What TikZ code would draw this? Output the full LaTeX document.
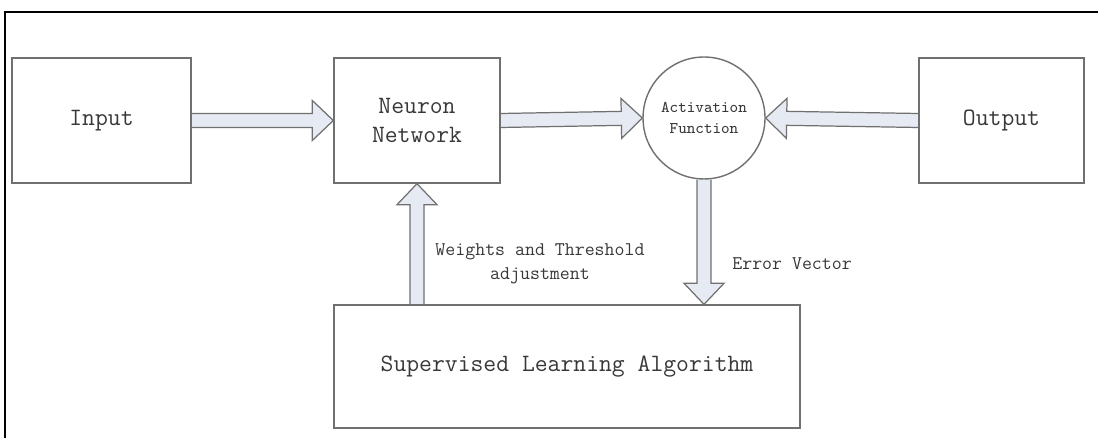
\documentclass[tikz,border=0pt]{standalone}
\usetikzlibrary{calc,backgrounds}

\definecolor{boxgray}{HTML}{707070}
\definecolor{txtgray}{HTML}{383838}
\definecolor{arrowfill}{HTML}{E6EAF3}

\tikzset{
  block/.style={draw=boxgray,line width=0.8pt,fill=white,minimum height=2.5cm,
    inner sep=0pt,text=txtgray,font=\ttfamily\fontsize{14.2}{17}\selectfont},
  fatarrow/.style={draw=boxgray,line width=0.7pt,fill=arrowfill,line join=miter},
  lbl/.style={text=txtgray,font=\ttfamily\fontsize{11}{13.5}\selectfont,inner sep=0pt}
}

\newcommand{\fatarrow}[2]{%
  \path ($(#2)!0.42cm!(#1)$) coordinate (fa-h);
  \filldraw[fatarrow] ($(#1)!0.14cm!90:(#2)$) -- ($(fa-h)!0.14cm!90:(#2)$)
    -- ($(fa-h)!0.4cm!90:(#2)$) -- (#2) -- ($(fa-h)!0.4cm!-90:(#2)$)
    -- ($(fa-h)!0.14cm!-90:(#2)$) -- ($(#1)!0.14cm!-90:(#2)$);
}

\begin{document}
\begin{tikzpicture}[x=0.02cm,y=-0.02cm]
  \useasboundingbox (0,0) rectangle (1098,438);
  \draw[line width=1.4pt,black] (5,438) -- (5,12) -- (1098,12);
  \node[block,minimum width=3.58cm] (input) at (101.5,120.5) {Input};
  \node[block,minimum width=3.32cm,align=center] (nn) at (417,120.5) {Neuron\\Network};
  \node[block,circle,minimum size=2.44cm,minimum height=0pt,
    font=\ttfamily\fontsize{9.3}{12}\selectfont,align=center] (act) at (704,118) {Activation\\Function};
  \node[block,minimum width=3.3cm] (output) at (1001.5,120.5) {Output};
  \node[block,minimum width=9.32cm,minimum height=2.46cm] (sla) at (567,366.5) {Supervised Learning Algorithm};
  \begin{scope}[on background layer]
    \fatarrow{input.east}{nn.west}
    \fatarrow{nn.east}{act.west}
    \fatarrow{output.west}{act.east}
    \fatarrow{nn.south |- sla.north}{nn.south}
    \fatarrow{act.south}{act.south |- sla.north}
  \end{scope}
  \node[lbl,align=center] (wlbl) at (540,264) {Weights and Threshold\\adjustment};
  \node[lbl,anchor=west] (elbl) at (732,264) {Error Vector};
\end{tikzpicture}
\end{document}
